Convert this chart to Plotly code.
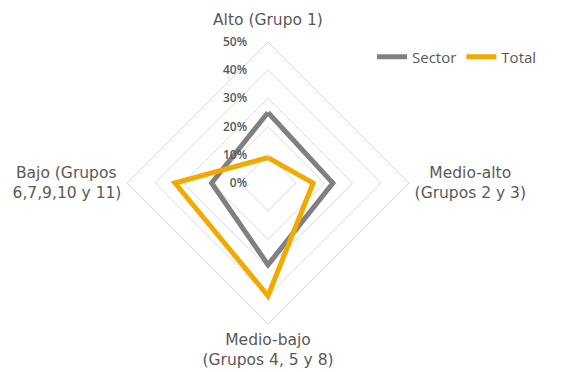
import plotly.graph_objects as go

# Socioeconomic level categories (clockwise from top)
categories = [
    "Alto (Grupo 1)",
    "Medio-alto (Grupos 2 y 3)",
    "Medio-bajo (Grupos 4, 5 y 8)",
    "Bajo (Grupos 6,7,9,10 y 11)",
]
sector_values = [25, 23, 29, 20]
total_values = [9, 16, 40, 33]
tick_values = [0, 10, 20, 30, 40, 50]
tick_labels = ["0%", "10%", "20%", "30%", "40%", "50%"]

GRAY = "#808080"
GOLD = "#F2A900"
TEXT = "#595959"
GRID = "#D9D9D9"

NB = "\u00a0"
# two-line spoke labels; padding centres the shorter line over the longer one
spoke_labels = [
    "",  # top label is drawn as an annotation a little further out
    NB * 3 + "Medio-alto<br>(Grupos 2 y 3)",
    "Medio-bajo<br>(Grupos 4, 5 y 8)",
    "Bajo (Grupos" + NB + "<br>6,7,9,10 y 11)",
]
# trailing padding keeps the radial labels left of the vertical axis
PAD = NB * 6


def closed(seq):
    return list(seq) + [seq[0]]


fig = go.Figure()
fig.add_trace(go.Scatterpolar(
    r=closed(sector_values), theta=closed(categories), mode="lines",
    name="Sector", line=dict(color=GRAY, width=5),
))
fig.add_trace(go.Scatterpolar(
    r=closed(total_values), theta=closed(categories), mode="lines",
    name="Total", line=dict(color=GOLD, width=5),
))

cx, cy, rad = 268, 183, 141
W, H = 568, 372
LABEL_FONT = dict(family="DejaVu Sans, sans-serif", size=15.5, color=TEXT)
fig.update_layout(
    width=W, height=H,
    margin=dict(l=0, r=0, t=0, b=0),
    paper_bgcolor="white", plot_bgcolor="white",
    font=dict(family="DejaVu Sans, sans-serif", color=TEXT),
    polar=dict(
        domain=dict(x=[(cx - rad) / W, (cx + rad) / W],
                    y=[1 - (cy + rad) / H, 1 - (cy - rad) / H]),
        gridshape="linear",
        bgcolor="white",
        radialaxis=dict(
            range=[0, 50], tickvals=tick_values,
            ticktext=[t + PAD for t in tick_labels],
            angle=90, tickangle=90, side="counterclockwise",
            showline=False, ticks="", gridcolor=GRID, gridwidth=1,
            tickfont=dict(family="Open Sans, sans-serif", size=12, color=TEXT, weight=600),
        ),
        angularaxis=dict(
            direction="clockwise", rotation=90,
            tickmode="array", tickvals=categories, ticktext=spoke_labels,
            showgrid=False, linecolor=GRID, linewidth=1,
            ticks="outside", ticklen=2, tickcolor="rgba(0,0,0,0)",
            tickfont=LABEL_FONT,
        ),
    ),
    annotations=[dict(
        text=categories[0], x=cx / W, y=1 - 20 / H, xref="paper", yref="paper",
        xanchor="center", yanchor="middle", showarrow=False, font=LABEL_FONT,
    )],
    showlegend=True,
    legend=dict(
        orientation="h", x=372 / W, y=1 - 57 / H, xanchor="left", yanchor="middle",
        font=dict(family="Open Sans, sans-serif", size=15, color=TEXT),
        bgcolor="rgba(0,0,0,0)",
    ),
)

fig.write_html("out.html")
